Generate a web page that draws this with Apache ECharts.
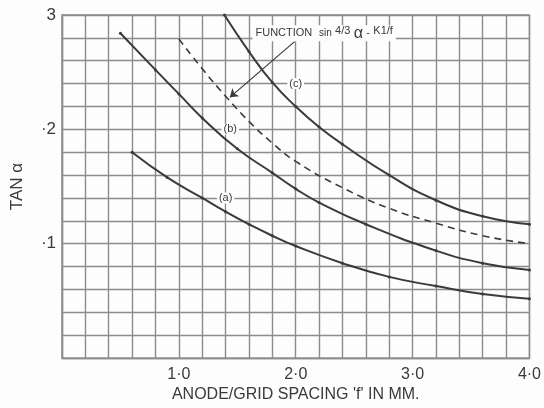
<!DOCTYPE html>
<html>
<head>
    <meta charset="UTF-8">
    <title>tan alpha vs anode/grid spacing</title>
    <script src="https://cdn.jsdelivr.net/npm/echarts@6/dist/echarts.min.js"></script>
    <style>
        html, body { margin: 0; padding: 0; background: #fdfdfd; }
        #main { width: 544px; height: 408px; }
    </style>
</head>
<body>
<div id="main"></div>
<script>
    // values: [spacing f (mm), tan alpha]
    var curveA = [[0.6, 0.180], [0.9, 0.158], [1.2, 0.140], [1.4, 0.128], [1.6, 0.117], [1.8, 0.107],
        [2.0, 0.098], [2.4, 0.083], [2.8, 0.071], [3.2, 0.063], [3.6, 0.056], [4.0, 0.052]];
    var curveB = [[0.5, 0.284], [0.8, 0.252], [1.0, 0.231], [1.2, 0.210], [1.5, 0.183], [1.8, 0.162],
        [2.0, 0.148], [2.2, 0.136], [2.6, 0.117], [3.2, 0.094], [3.6, 0.083], [4.0, 0.077]];
    var curveC = [[1.39, 0.300], [1.6, 0.268], [1.8, 0.241], [2.0, 0.220], [2.2, 0.202], [2.4, 0.187],
        [2.8, 0.160], [3.2, 0.138], [3.6, 0.124], [4.0, 0.117]];
    var curveFn = [[1.0, 0.279], [1.2, 0.253], [1.4, 0.229], [1.6, 0.207], [1.8, 0.188], [2.0, 0.172],
        [2.4, 0.149], [2.8, 0.131], [3.2, 0.118], [3.6, 0.107], [4.0, 0.100]];

    var xTickLabels = {1: '1·0', 2: '2·0', 3: '3·0', 4: '4·0'};
    var yTickLabels = {1: '·1', 2: '·2', 3: '3'};

    var ink = '#3a3a3a';
    var gridGray = '#8c8c8c';
    var font = 'Liberation Sans';

    function curveLabel(txt, x, y) {
        return {
            symbol: 'circle', symbolSize: 0, silent: true,
            label: {
                show: true, position: 'inside', formatter: txt,
                color: ink, fontFamily: font, fontSize: 11,
                backgroundColor: '#fdfdfd', padding: [0, 2]
            },
            data: [{coord: [x, y]}]
        };
    }

    var chart = echarts.init(document.getElementById('main'));
    chart.setOption({
        backgroundColor: '#fdfdfd',
        animation: false,
        grid: {left: 62, right: 14, top: 15, bottom: 47, show: true, borderColor: gridGray, borderWidth: 1.4},
        xAxis: {
            type: 'value', min: 0, max: 4, interval: 0.2,
            name: 'ANODE/GRID SPACING \'f\' IN MM.', nameLocation: 'middle', nameGap: 24,
            nameTextStyle: {color: ink, fontFamily: font, fontSize: 16},
            axisLine: {show: true, lineStyle: {color: gridGray, width: 1.4}},
            axisTick: {show: false},
            splitLine: {show: true, lineStyle: {color: gridGray, width: 1.4}},
            axisLabel: {
                color: ink, fontFamily: font, fontSize: 16, margin: 8,
                formatter: function (v) {
                    var k = Math.round(v * 5) / 5;
                    return (Math.abs(k - Math.round(k)) < 1e-6 && xTickLabels[Math.round(k)]) || '';
                }
            }
        },
        yAxis: {
            type: 'value', min: 0, max: 0.3, interval: 0.02,
            name: 'TAN α', nameLocation: 'middle', nameGap: 36, nameRotate: 90,
            nameTextStyle: {color: ink, fontFamily: font, fontSize: 17},
            axisLine: {show: true, lineStyle: {color: gridGray, width: 1.4}},
            axisTick: {show: false},
            splitLine: {show: true, lineStyle: {color: gridGray, width: 1.4}},
            axisLabel: {
                color: ink, fontFamily: font, fontSize: 17, margin: 6,
                formatter: function (v) {
                    var k = v * 10;
                    return (Math.abs(k - Math.round(k)) < 1e-6 && yTickLabels[Math.round(k)]) || '';
                }
            }
        },
        series: [
            {
                name: '(a)', type: 'line', data: curveA, smooth: 0.5,
                symbol: 'circle', symbolSize: 3, itemStyle: {color: ink},
                lineStyle: {color: ink, width: 2},
                markPoint: curveLabel('(a)', 1.4, 0.14)
            },
            {
                name: '(b)', type: 'line', data: curveB, smooth: 0.5,
                symbol: 'circle', symbolSize: 3, itemStyle: {color: ink},
                lineStyle: {color: ink, width: 2},
                markPoint: curveLabel('(b)', 1.44, 0.2)
            },
            {
                name: '(c)', type: 'line', data: curveC, smooth: 0.5,
                symbol: 'circle', symbolSize: 3, itemStyle: {color: ink},
                lineStyle: {color: ink, width: 2},
                markPoint: curveLabel('(c)', 2.0, 0.24)
            },
            {
                name: 'function', type: 'line', data: curveFn, smooth: 0.5,
                showSymbol: false,
                lineStyle: {color: ink, width: 1.6, type: [7, 5]},
                markPoint: {
                    symbol: 'circle', symbolSize: 0, silent: true,
                    label: {
                        show: true, position: 'right', distance: 0,
                        formatter: '{a|FUNCTION}  {s|sin} {t|4/3} {g|α} {a|-} {t|K1/f}',
                        backgroundColor: '#fdfdfd', padding: [0, 3],
                        rich: {
                            a: {fontFamily: font, fontSize: 11, color: ink, verticalAlign: 'middle', lineHeight: 16},
                            s: {fontFamily: font, fontSize: 10, color: ink, verticalAlign: 'middle', lineHeight: 16},
                            t: {fontFamily: font, fontSize: 11, color: ink, verticalAlign: 'top', lineHeight: 16},
                            g: {fontFamily: font, fontSize: 16, color: ink, verticalAlign: 'middle', lineHeight: 16}
                        }
                    },
                    data: [{coord: [1.63, 0.284]}]
                },
                markLine: {
                    silent: true, symbol: ['none', 'arrow'], symbolSize: 8,
                    label: {show: false},
                    lineStyle: {color: ink, width: 1.2, type: 'solid'},
                    data: [[{coord: [1.99, 0.2767]}, {coord: [1.436, 0.228]}]]
                }
            }
        ]
    });
</script>
</body>
</html>
